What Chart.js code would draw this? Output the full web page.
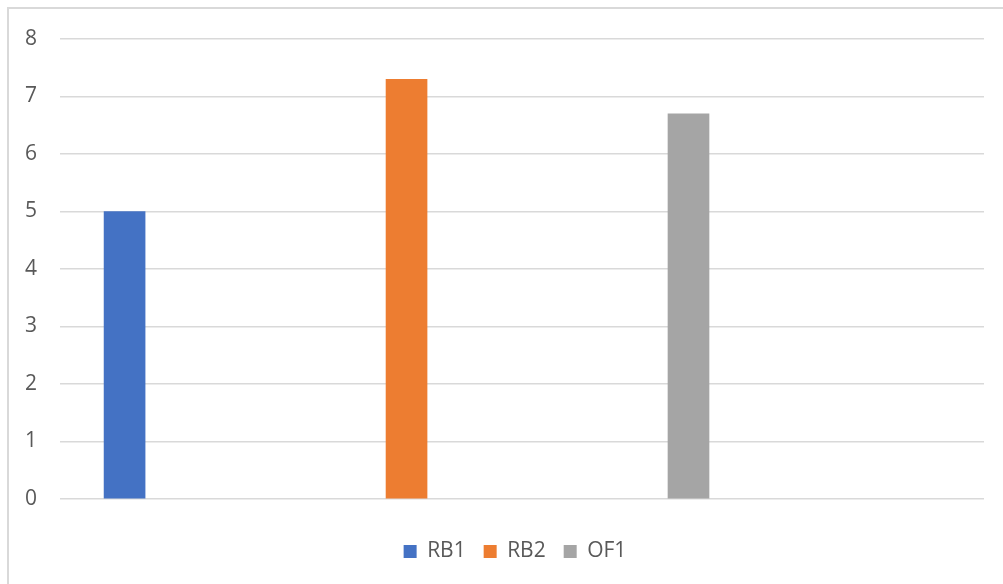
<!DOCTYPE html>
<html>
<head>
<meta charset="utf-8">
<script src="https://cdn.jsdelivr.net/npm/chart.js@4.4.1/dist/chart.umd.min.js"></script>
<style>
    html, body { margin: 0; padding: 0; background: #fff; overflow: hidden; }
    #wrap { position: relative; width: 1003px; height: 584px; }
    #frame {
        position: absolute; left: 7px; top: 7px; width: 1100px; height: 700px;
        border: 2px solid #d9d9d9; box-sizing: border-box;
    }
    #results-chart { position: absolute; left: 0; top: 0; }
</style>
</head>
<body>
<div id="wrap">
    <div id="frame"></div>
    <canvas id="results-chart" width="1003" height="584"></canvas>
</div>
<script>
const seriesNames = ['RB1', 'RB2', 'OF1'];
const seriesValues = [5, 7.3, 6.7];
const seriesSlots = [1, 2, 3];
const seriesColors = ['#4472C4', '#ED7D31', '#A5A5A5'];

// nudge the legend a little to the right of the canvas centre
const legendShift = {
    id: 'legendShift',
    afterLayout(chart) {
        chart.legend.left += 22;
        chart.legend.right += 22;
    }
};

document.addEventListener('DOMContentLoaded', () => {
    const ctx = document.getElementById('results-chart').getContext('2d');
    const font = { family: "'Open Sans', sans-serif", size: 21 };

    // one bar per series, each sitting on its own slot of the x scale
    const datasets = seriesNames.map((name, i) => ({
        label: name,
        data: [{ x: seriesSlots[i], y: seriesValues[i] }],
        backgroundColor: seriesColors[i],
        borderWidth: 0,
        barThickness: 41,
        grouped: false
    }));

    new Chart(ctx, {
        type: 'bar',
        data: { datasets: datasets },
        options: {
            responsive: false,
            animation: false,
            layout: { padding: { left: 2, top: 39, right: 19, bottom: 12 } },
            scales: {
                x: {
                    type: 'linear',
                    offset: false,
                    min: 0.771,
                    max: 4.048,
                    grid: { display: false },
                    border: { display: false },
                    ticks: { display: false },
                    afterFit: scale => { scale.height = 24; }
                },
                y: {
                    min: 0,
                    max: 8,
                    ticks: { stepSize: 1, color: '#595959', font: font, padding: 23 },
                    grid: { color: '#d9d9d9', lineWidth: 1.5, drawTicks: false },
                    border: { display: false }
                }
            },
            plugins: {
                legend: {
                    position: 'bottom',
                    labels: {
                        boxWidth: 13,
                        boxHeight: 13,
                        padding: 18,
                        color: '#595959',
                        font: font
                    }
                },
                tooltip: { enabled: false }
            }
        },
        plugins: [legendShift]
    });
});
</script>
</body>
</html>
